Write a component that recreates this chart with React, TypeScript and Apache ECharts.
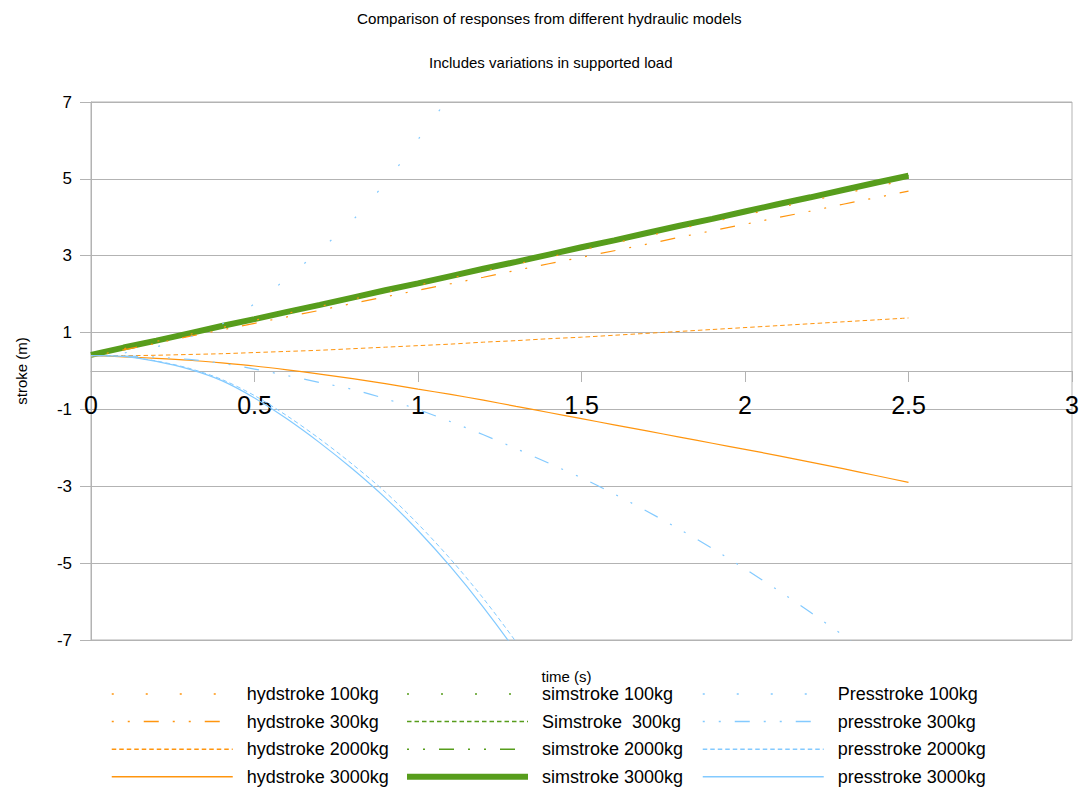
import React, { useEffect, useRef } from "react";
import * as echarts from "echarts";

// Sample times (s)
const time = [0, 0.1, 0.2, 0.3, 0.4, 0.5, 0.6, 0.7, 0.8, 0.9, 1.0, 1.1, 1.2, 1.3, 1.4, 1.5, 1.6, 1.7, 1.8, 1.9, 2.0, 2.1, 2.2, 2.3, 2.4, 2.5];

// Hydraulic model stroke (m)
const hydstroke100 = [0.40, 0.58, 0.77, 0.95, 1.13, 1.32, 1.50, 1.68, 1.87, 2.05, 2.23, 2.42, 2.60, 2.78, 2.96, 3.15, 3.33, 3.51, 3.70, 3.88, 4.06, 4.25, 4.43, 4.61, 4.80, 4.98];
const hydstroke300 = [0.38, 0.55, 0.72, 0.90, 1.07, 1.24, 1.41, 1.58, 1.76, 1.93, 2.10, 2.27, 2.44, 2.62, 2.79, 2.96, 3.13, 3.30, 3.48, 3.65, 3.82, 3.99, 4.16, 4.34, 4.51, 4.68];
const hydstroke2000 = [0.40, 0.40, 0.41, 0.43, 0.45, 0.48, 0.51, 0.54, 0.58, 0.62, 0.66, 0.70, 0.75, 0.79, 0.84, 0.88, 0.93, 0.98, 1.03, 1.08, 1.13, 1.18, 1.23, 1.28, 1.33, 1.38];
const hydstroke3000 = [0.40, 0.37, 0.33, 0.28, 0.21, 0.13, 0.03, -0.08, -0.20, -0.33, -0.47, -0.61, -0.76, -0.92, -1.08, -1.24, -1.40, -1.56, -1.72, -1.88, -2.04, -2.20, -2.37, -2.54, -2.72, -2.90];

// Simulation stroke (m)
const simstroke100 = [0.42, 0.61, 0.79, 0.98, 1.17, 1.35, 1.54, 1.72, 1.91, 2.10, 2.28, 2.47, 2.66, 2.84, 3.03, 3.22, 3.40, 3.59, 3.78, 3.96, 4.15, 4.34, 4.52, 4.71, 4.90, 5.08];
const simstroke300 = [0.42, 0.61, 0.79, 0.98, 1.17, 1.35, 1.54, 1.72, 1.91, 2.10, 2.28, 2.47, 2.66, 2.84, 3.03, 3.22, 3.40, 3.59, 3.78, 3.96, 4.15, 4.34, 4.52, 4.71, 4.90, 5.08];
const simstroke2000 = [0.42, 0.61, 0.79, 0.98, 1.17, 1.35, 1.54, 1.72, 1.91, 2.10, 2.28, 2.47, 2.66, 2.84, 3.03, 3.22, 3.40, 3.59, 3.78, 3.96, 4.15, 4.34, 4.52, 4.71, 4.90, 5.08];
const simstroke3000 = [0.42, 0.61, 0.79, 0.98, 1.17, 1.35, 1.54, 1.72, 1.91, 2.10, 2.28, 2.47, 2.66, 2.84, 3.03, 3.22, 3.40, 3.59, 3.78, 3.96, 4.15, 4.34, 4.52, 4.71, 4.90, 5.08];

// Pressure model stroke (m)
const presstroke100 = [0.40, 0.47, 0.63, 0.88, 1.22, 1.75, 2.42, 3.15, 3.92, 4.90, 6.02, 7.20, 8.50];
const presstroke300 = [0.40, 0.39, 0.36, 0.30, 0.20, 0.05, -0.12, -0.30, -0.48, -0.72, -1.00, -1.32, -1.66, -2.02, -2.40, -2.78, -3.20, -3.65, -4.12, -4.62, -5.15, -5.70, -6.28, -6.88, -7.52, -8.20];
const presstroke2000 = [0.40, 0.38, 0.26, 0.07, -0.22, -0.64, -1.17, -1.77, -2.43, -3.15, -3.98, -4.90, -5.92, -7.05, -8.25, -9.55];
const presstroke3000 = [0.40, 0.38, 0.25, 0.05, -0.25, -0.70, -1.25, -1.87, -2.55, -3.30, -4.15, -5.10, -6.15, -7.30, -8.55, -9.90];

// Stroke axis tick labels, bottom to top
const yTickLabels = ["-7", "-5", "-3", "-1", "1", "3", "5", "7"];

const FONT = "Liberation Sans";
const ORANGE = "#ff950e";
const GREEN = "#579d1c";
const BLUE = "#83caff";
const GRID_GREY = "#b3b3b3";

const SPARSE_DOT = [2, 32];
const DASH_DOT_DOT = [2, 14, 2, 14, 15, 14];
const FINE_DASH = [4.5, 3];

type Style = { color: string; width: number; type: number[] | "solid"; smooth: number };

const styles: Record<string, Style> = {
  "hydstroke 100kg": { color: ORANGE, width: 1.2, type: SPARSE_DOT, smooth: 0 },
  "hydstroke 300kg": { color: ORANGE, width: 1.2, type: DASH_DOT_DOT, smooth: 0 },
  "hydstroke 2000kg": { color: ORANGE, width: 1, type: FINE_DASH, smooth: 0.3 },
  "hydstroke 3000kg": { color: ORANGE, width: 1.2, type: "solid", smooth: 0.3 },
  "simstroke 100kg": { color: GREEN, width: 1.2, type: SPARSE_DOT, smooth: 0 },
  "Simstroke  300kg": { color: GREEN, width: 1, type: FINE_DASH, smooth: 0 },
  "simstroke 2000kg": { color: GREEN, width: 1.2, type: DASH_DOT_DOT, smooth: 0 },
  "simstroke 3000kg": { color: GREEN, width: 6, type: "solid", smooth: 0 },
  "Presstroke 100kg": { color: BLUE, width: 1.2, type: SPARSE_DOT, smooth: 0.3 },
  "presstroke 300kg": { color: BLUE, width: 1.2, type: DASH_DOT_DOT, smooth: 0.3 },
  "presstroke 2000kg": { color: BLUE, width: 1, type: FINE_DASH, smooth: 0.3 },
  "presstroke 3000kg": { color: BLUE, width: 1.2, type: "solid", smooth: 0.3 },
};

// Draw order: simulation lines underneath, then hydraulic, then pressure
const seriesValues: [string, number[]][] = [
  ["simstroke 100kg", simstroke100],
  ["Simstroke  300kg", simstroke300],
  ["simstroke 2000kg", simstroke2000],
  ["simstroke 3000kg", simstroke3000],
  ["hydstroke 100kg", hydstroke100],
  ["hydstroke 300kg", hydstroke300],
  ["hydstroke 2000kg", hydstroke2000],
  ["hydstroke 3000kg", hydstroke3000],
  ["Presstroke 100kg", presstroke100],
  ["presstroke 300kg", presstroke300],
  ["presstroke 2000kg", presstroke2000],
  ["presstroke 3000kg", presstroke3000],
];

const legendColumns: string[][] = [
  ["hydstroke 100kg", "hydstroke 300kg", "hydstroke 2000kg", "hydstroke 3000kg"],
  ["simstroke 100kg", "Simstroke  300kg", "simstroke 2000kg", "simstroke 3000kg"],
  ["Presstroke 100kg", "presstroke 300kg", "presstroke 2000kg", "presstroke 3000kg"],
];
const legendLefts = [111, 404, 702];

function buildOption(): echarts.EChartsOption {
  const series = seriesValues.map(([name, ys]) => {
    const s = styles[name];
    return {
      name,
      type: "line" as const,
      xAxisIndex: 0,
      yAxisIndex: 0,
      data: ys.map((y, i) => [time[i], y]),
      symbol: "none",
      showSymbol: false,
      smooth: s.smooth,
      silent: true,
      clip: true,
      lineStyle: { color: s.color, width: s.width, type: s.type as any, cap: "butt" as const },
      itemStyle: { color: s.color },
      emphasis: { disabled: true },
    };
  });

  const legend = legendColumns.map((names, c) => ({
    orient: "vertical" as const,
    left: legendLefts[c],
    top: 685,
    padding: 0,
    itemWidth: 121,
    itemHeight: 14,
    itemGap: 9.6,
    itemStyle: { opacity: 0 },
    data: names.map((name) => {
      const s = styles[name];
      return {
        name,
        itemStyle: { opacity: 0 },
        lineStyle: {
          color: s.color,
          width: Math.max(1.5, s.width),
          type: s.type as any,
          cap: "butt" as const,
          opacity: 1,
        },
      };
    }),
    textStyle: {
      fontFamily: FONT,
      fontSize: 18,
      lineHeight: 18,
      color: "#000",
      padding: [0, 0, 0, 9],
    },
  }));

  const titleStyle = { fontFamily: FONT, fontSize: 15, fontWeight: "normal" as const, color: "#000" };

  return {
    animation: false,
    backgroundColor: "#fff",
    textStyle: { fontFamily: FONT },
    title: [
      {
        text: "Comparison of responses from different hydraulic models",
        left: 357,
        top: 11,
        padding: 0,
        textStyle: { ...titleStyle, fontSize: 15.2 },
      },
      {
        text: "Includes variations in supported load",
        left: 429,
        top: 55,
        padding: 0,
        textStyle: titleStyle,
      },
    ],
    grid: [
      {
        // plotting area
        left: 91,
        right: 9,
        top: 102,
        bottom: 147,
        show: true,
        borderColor: GRID_GREY,
        borderWidth: 1,
        backgroundColor: "transparent",
        outerBoundsMode: "none",
        containLabel: false,
      },
      {
        // upper half, whose bottom edge is the zero line carrying the time axis
        left: 91,
        right: 9,
        top: 102,
        height: 269,
        show: false,
        outerBoundsMode: "none",
        containLabel: false,
      },
    ] as any,
    legend,
    xAxis: [
      {
        gridIndex: 0,
        type: "value",
        min: 0,
        max: 3,
        show: false,
      },
      {
        gridIndex: 1,
        type: "value",
        min: 0,
        max: 3,
        interval: 0.5,
        position: "bottom",
        name: "time (s)",
        nameLocation: "middle",
        nameGap: 298,
        nameTextStyle: { fontFamily: FONT, fontSize: 15, color: "#000", padding: [0, 30, 0, 0] },
        axisLine: { show: true, onZero: false, lineStyle: { color: GRID_GREY, width: 1 } },
        axisTick: { show: true, length: 11, inside: false, lineStyle: { color: GRID_GREY } },
        axisLabel: { fontFamily: FONT, fontSize: 25, color: "#000", margin: 21 },
        splitLine: { show: false },
      },
    ],
    yAxis: [
      {
        // scale used by every series
        gridIndex: 0,
        type: "value",
        min: -7,
        max: 7,
        position: "right",
        show: false,
      },
      {
        // visible stroke axis: tick k sits at stroke yTickLabels[k]
        gridIndex: 0,
        type: "value",
        min: 0,
        max: 14,
        interval: 2,
        position: "left",
        name: "stroke (m)",
        nameLocation: "middle",
        nameGap: 62,
        nameRotate: 90,
        nameTextStyle: { fontFamily: FONT, fontSize: 15, color: "#000" },
        axisLine: { show: true, onZero: false, lineStyle: { color: GRID_GREY, width: 1 } },
        axisTick: { show: true, length: 11, inside: false, lineStyle: { color: GRID_GREY } },
        axisLabel: {
          fontFamily: FONT,
          fontSize: 17,
          color: "#000",
          margin: 19,
          formatter: (v: number) => yTickLabels[Math.round(v / 2)] ?? "",
        },
        splitLine: { show: true, lineStyle: { color: GRID_GREY, width: 1 } },
      },
      {
        gridIndex: 1,
        type: "value",
        min: 0,
        max: 1,
        position: "right",
        show: false,
      },
    ],
    series,
  } as echarts.EChartsOption;
}

export default function App() {
  const ref = useRef<HTMLDivElement>(null);
  useEffect(() => {
    if (!ref.current) return;
    const chart = echarts.init(ref.current, undefined, { renderer: "svg" });
    chart.setOption(buildOption());
    return () => chart.dispose();
  }, []);
  return (
    <div
      ref={ref}
      style={{ position: "fixed", left: 0, top: 0, width: 1081, height: 787, background: "#fff" }}
    />
  );
}
